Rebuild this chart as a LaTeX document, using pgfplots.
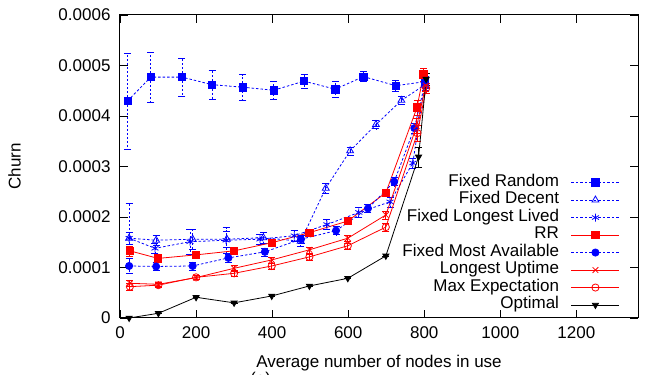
\documentclass[border=0pt]{standalone}
\usepackage{fontspec}
\setmainfont{Liberation Sans}
\usepackage{pgfplots}
\pgfplotsset{compat=1.18}
\usetikzlibrary{calc}
\pgfplotsset{
  bl/.style={blue, line width=0.8bp, dash pattern=on 2.5bp off 2bp, mark options={solid, blue},
    error bars/y dir=both, error bars/y explicit,
    error bars/error bar style={blue, line width=0.8bp, dash pattern=on 2bp off 2bp},
    error bars/error mark options={blue, mark size=3.5bp, solid, rotate=90}},
  rd/.style={red, line width=0.8bp, solid, mark options={solid, red},
    error bars/y dir=both, error bars/y explicit,
    error bars/error bar style={red, line width=0.8bp},
    error bars/error mark options={red, mark size=3.5bp, rotate=90}},
  bk/.style={black, line width=0.8bp, solid, mark options={solid, black},
    error bars/y dir=both, error bars/y explicit,
    error bars/error bar style={black, line width=0.8bp},
    error bars/error mark options={black, mark size=3.5bp, rotate=90}},
}
\begin{document}
\begin{tikzpicture}[font=\fontsize{17bp}{20bp}\selectfont]
\begin{axis}[
  scale only axis, width=518bp, height=303bp,
  xmin=0, xmax=1362, ymin=0, ymax=0.0006,
  xtick={0,200,400,600,800,1000,1200},
  xticklabels={0,200,400,600,800,1000,1200},
  ytick={0,0.0001,0.0002,0.0003,0.0004,0.0005,0.0006},
  yticklabels={0,0.0001,0.0002,0.0003,0.0004,0.0005,0.0006},
  scaled y ticks=false,
  tick align=inside, tick pos=both, major tick length=8bp,
  axis line style={line width=1bp},
  tick style={line width=0.8bp, black},
  xticklabel style={yshift=-5bp},
  yticklabel style={xshift=-6bp},
  xlabel={Average number of nodes in use},
  ylabel={Churn},
  xlabel style={at={(axis description cs:0.5,-0.1205)}, anchor=north, inner sep=0pt},
  ylabel style={at={(axis description cs:-0.191,0.5)}, anchor=south, inner sep=0pt},
  legend style={draw=none, fill=none, at={(axis description cs:0.9653,0.4766)}, anchor=north east,
    inner sep=0pt, row sep=0pt, column sep=12bp,
    nodes={inner sep=0pt, text height=12.5bp, text depth=5bp}},
  legend cell align=right, legend plot pos=right,
  legend image code/.code={\draw[mark repeat=2,mark phase=2] plot coordinates {(0bp,0bp) (24bp,0bp) (48bp,0bp)};},
]
% Fixed Random
\addplot[bl, mark=square*, mark size=3.7bp] coordinates {
(20,0.000430) +- (0,0.000095)
(81,0.000477) +- (0,0.00005)
(163,0.000477) +- (0,0.000037)
(242,0.000462) +- (0,0.000028)
(323,0.000457) +- (0,0.000025)
(404,0.000451) +- (0,0.000018)
(484,0.000469) +- (0,0.000013)
(566,0.000453) +- (0,0.000016)
(640,0.000478) +- (0,0.00001)
(725,0.000460) +- (0,0.00001)
(802,0.000468) +- (0,0.00001)
};
\addlegendentry{Fixed Random}
% Fixed Decent
\addplot[bl, mark=triangle, mark size=4bp] coordinates {
(24,0.000158) +- (0,0.00007)
(95,0.000154) +- (0,0.00001)
(191,0.000156) +- (0,0.00002)
(281,0.000156) +- (0,0.000015)
(377,0.000159) +- (0,0.00001)
(475,0.000152) +- (0,0.00001)
(541,0.000257) +- (0,0.00001)
(605,0.000331) +- (0,0.000008)
(673,0.000383) +- (0,0.000008)
(740,0.000431) +- (0,0.000008)
(802,0.000462) +- (0,0.00001)
};
\addlegendentry{Fixed Decent}
% Fixed Longest Lived
\addplot[bl, mark=asterisk, mark size=4bp] coordinates {
(24,0.000158) +- (0,0.000012)
(92,0.000138) +- (0,0.00001)
(184,0.000151) +- (0,0.000025)
(279,0.000154) +- (0,0.000025)
(368,0.000156) +- (0,0.00001)
(458,0.000163) +- (0,0.00001)
(544,0.000185) +- (0,0.00001)
(628,0.000209) +- (0,0.00001)
(710,0.000230) +- (0,0.00001)
(770,0.000307) +- (0,0.00001)
(802,0.000468) +- (0,0.00001)
};
\addlegendentry{Fixed Longest Lived}
% RR
\addplot[rd, mark=square*, mark size=3.7bp] coordinates {
(26,0.000133) +- (0,0.00001)
(100,0.000118) +- (0,0.000005)
(200,0.000125) +- (0,0.000005)
(300,0.000133) +- (0,0.000005)
(399,0.000149) +- (0,0.000005)
(498,0.000169) +- (0,0.000005)
(599,0.000192) +- (0,0.000005)
(699,0.000248) +- (0,0.000006)
(781,0.000417) +- (0,0.000015)
(798,0.000482) +- (0,0.000013)
};
\addlegendentry{RR}
% Fixed Most Available
\addplot[bl, mark=*, mark size=3.6bp] coordinates {
(24,0.000103) +- (0,0.000015)
(95,0.000102) +- (0,0.000008)
(191,0.000103) +- (0,0.000008)
(285,0.000119) +- (0,0.000008)
(381,0.000131) +- (0,0.000008)
(476,0.000156) +- (0,0.000008)
(568,0.000173) +- (0,0.000008)
(652,0.000217) +- (0,0.000008)
(721,0.000270) +- (0,0.000008)
(774,0.000376) +- (0,0.00001)
(802,0.000465) +- (0,0.00001)
};
\addlegendentry{Fixed Most Available}
% Longest Uptime
\addplot[rd, mark=x, mark size=4bp] coordinates {
(26,0.0000687) +- (0,0.000006)
(101,0.0000667) +- (0,0.000004)
(200,0.0000800) +- (0,0.000004)
(300,0.0000984) +- (0,0.000006)
(399,0.000115) +- (0,0.000006)
(498,0.000135) +- (0,0.000006)
(599,0.000158) +- (0,0.000006)
(699,0.000204) +- (0,0.000008)
(780,0.000380) +- (0,0.000015)
(804,0.000460) +- (0,0.00001)
};
\addlegendentry{Longest Uptime}
% Max Expectation
\addplot[rd, mark=o, mark size=3.6bp] coordinates {
(26,0.0000620) +- (0,0.000006)
(101,0.0000650) +- (0,0.000004)
(200,0.0000805) +- (0,0.000004)
(300,0.0000885) +- (0,0.000006)
(399,0.000103) +- (0,0.000006)
(498,0.000121) +- (0,0.000006)
(599,0.000143) +- (0,0.000006)
(699,0.000180) +- (0,0.000008)
(782,0.000366) +- (0,0.000015)
(805,0.000455) +- (0,0.00001)
};
\addlegendentry{Max Expectation}
% Optimal
\addplot[bk, mark=triangle*, mark size=3.5bp, mark options={rotate=180}] coordinates {
(24,0) +- (0,0)
(101,0.0000093) +- (0,0)
(200,0.0000410) +- (0,0)
(300,0.0000300) +- (0,0)
(399,0.0000436) +- (0,0)
(498,0.0000634) +- (0,0)
(599,0.0000786) +- (0,0)
(699,0.000123) +- (0,0)
(785,0.000319) +- (0,0.00002)
(805,0.000473) +- (0,0.000012)
};
\addlegendentry{Optimal}
\end{axis}
\node[anchor=north west, inner sep=0pt] at ($(current axis.south west)+(130bp,-54bp)$) {(a)};
\pgfresetboundingbox
\path[use as bounding box] ($(current axis.south west)+(-120bp,-57bp)$) rectangle ($(current axis.north east)+(7bp,15bp)$);
\end{tikzpicture}
\end{document}
